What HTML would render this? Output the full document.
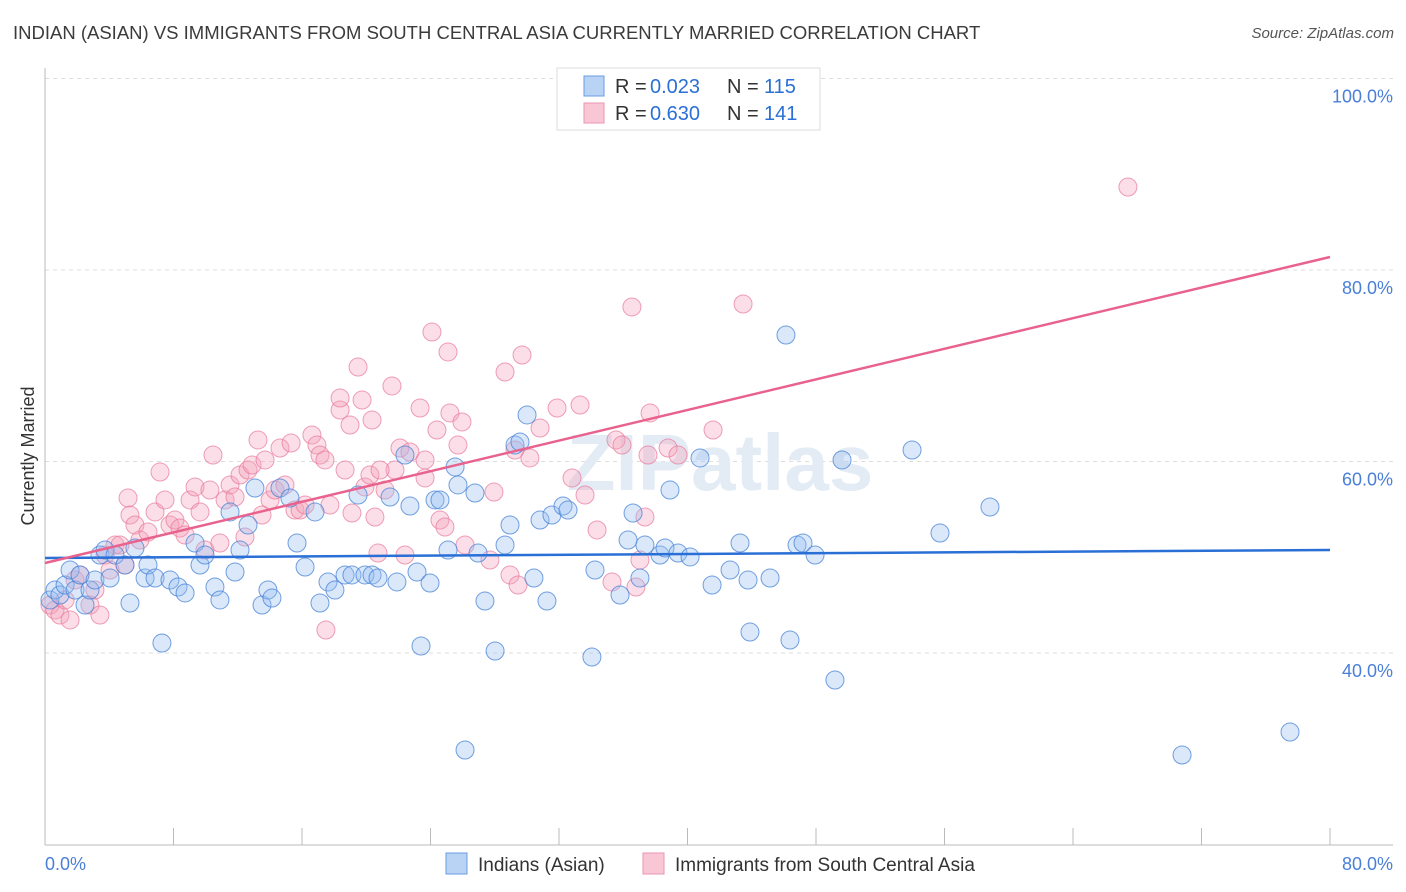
<!DOCTYPE html>
<html><head><meta charset="utf-8">
<style>
body{margin:0;background:#fff;font-family:"Liberation Sans",sans-serif;}
#wrap{position:relative;width:1406px;height:892px;overflow:hidden;}
.title{position:absolute;left:13px;top:22px;font-size:18.5px;color:#3b3b3b;}
.src{position:absolute;right:12px;top:25px;font-size:15px;color:#555;font-style:italic;}
</style></head><body>
<div id="wrap">
<div class="title">INDIAN (ASIAN) VS IMMIGRANTS FROM SOUTH CENTRAL ASIA CURRENTLY MARRIED CORRELATION CHART</div>
<div class="src">Source: ZipAtlas.com</div>
<svg id="svg" width="1406" height="892" style="position:absolute;left:0;top:0"></svg>
</div>
<script>
const xTicks=[0,8,16,24,32,40,48,56,64,72,80];
const yTicks=[40,60,80,100];
const bluePx=[[50,600],[55,590],[60,595],[65,585],[70,570],[75,590],[80,575],[85,605],[90,590],[95,580],[100,555],[105,550],[110,578],[115,555],[125,565],[130,603],[135,548],[145,578],[148,565],[155,578],[162,643],[170,580],[178,587],[185,593],[195,543],[200,565],[205,555],[215,587],[220,600],[230,512],[235,572],[240,550],[248,525],[255,488],[262,605],[268,590],[272,598],[280,488],[290,498],[297,543],[305,567],[315,512],[320,603],[328,582],[335,590],[345,575],[352,575],[358,495],[365,575],[372,575],[378,578],[390,497],[397,582],[405,455],[410,506],[417,572],[421,646],[430,583],[435,500],[440,500],[448,550],[455,467],[458,485],[465,750],[475,493],[478,553],[485,601],[495,651],[505,545],[510,525],[515,445],[520,442],[527,415],[534,578],[540,520],[547,601],[552,515],[563,506],[568,510],[592,657],[595,570],[620,595],[628,540],[633,513],[640,578],[645,545],[660,555],[665,548],[670,490],[678,553],[690,557],[700,458],[712,585],[730,570],[740,543],[748,580],[750,632],[770,578],[786,335],[790,640],[797,545],[803,543],[815,555],[835,680],[842,460],[912,450],[940,533],[990,507],[1182,755],[1290,732]];
const pinkPx=[[50,605],[55,610],[60,615],[65,600],[70,620],[75,580],[80,575],[90,605],[95,590],[100,615],[105,555],[110,570],[115,545],[120,545],[125,565],[128,498],[130,515],[135,525],[140,540],[148,532],[155,512],[160,472],[165,500],[170,525],[175,520],[180,528],[185,535],[190,500],[195,487],[200,512],[205,550],[210,490],[213,455],[220,543],[225,500],[230,485],[235,497],[240,475],[245,537],[248,470],[252,465],[258,440],[262,515],[265,460],[270,500],[275,490],[280,448],[285,485],[291,443],[295,510],[300,510],[305,505],[312,435],[317,445],[320,455],[325,460],[330,505],[326,630],[340,410],[345,470],[350,425],[352,513],[358,367],[362,400],[365,487],[370,475],[375,517],[378,553],[385,490],[392,386],[395,470],[400,448],[405,555],[410,452],[420,408],[425,478],[432,332],[437,430],[440,520],[445,527],[448,352],[450,413],[458,445],[462,422],[465,545],[490,560],[494,492],[505,372],[510,575],[515,450],[518,585],[522,355],[530,458],[540,428],[557,408],[572,478],[580,405],[585,495],[597,530],[612,582],[616,440],[622,445],[632,307],[636,587],[640,560],[645,517],[648,455],[650,413],[668,448],[678,455],[713,430],[743,304],[1128,187],[372,420],[380,470],[425,460],[340,398]];
const blueX=bluePx.map(p=>+((p[0]-45)/1285*80).toFixed(2));
const blueY=bluePx.map(p=>+(40+(653-p[1])/9.575).toFixed(2));
const pinkX=pinkPx.map(p=>+((p[0]-45)/1285*80).toFixed(2));
const pinkY=pinkPx.map(p=>+(40+(653-p[1])/9.575).toFixed(2));
const blueTrend=[49.92,50.76];
const pinkTrend=[49.4,81.36];
const X=v=>45+v/80*1285;
const Y=v=>653-(v-40)*9.575;
const NS="http://www.w3.org/2000/svg";
const svg=document.getElementById('svg');
function mk(t,a){const e=document.createElementNS(NS,t);for(const k in a)e.setAttribute(k,a[k]);svg.appendChild(e);return e;}
for(const t of yTicks){const l=mk('line',{x1:45,x2:1393,y1:Y(t),y2:Y(t),stroke:'#ddd','stroke-dasharray':'4,4'});


const tx=mk('text',{x:1393,y:Y(t)+24,'text-anchor':'end','font-size':18,fill:'#4a7fd8','font-family':'Liberation Sans'});tx.textContent=t.toFixed(1)+'%';

}
const ax=mk('line',{x1:45,x2:45,y1:68,y2:845,stroke:'#bbb'});


const bx=mk('line',{x1:45,x2:1393,y1:845,y2:845,stroke:'#bbb'});


for(const t of xTicks){const l=mk('line',{x1:X(t),x2:X(t),y1:828,y2:845,stroke:'#bbb'});

}
const x0=mk('text',{x:45,y:870,'font-size':18,fill:'#4a7fd8','font-family':'Liberation Sans'});x0.textContent='0.0%';


const x1=mk('text',{x:1393,y:870,'text-anchor':'end','font-size':18,fill:'#4a7fd8','font-family':'Liberation Sans'});x1.textContent='80.0%';


const yt=mk('text',{x:34,y:456,'text-anchor':'middle','font-size':18,fill:'#333','font-family':'Liberation Sans',transform:'rotate(-90 34 456)'});yt.textContent='Currently Married';


const wm=mk('text',{x:720,y:490,'text-anchor':'middle','font-size':80,fill:'#e3ebf5','font-family':'Liberation Sans','font-weight':'bold'});wm.textContent='ZIPatlas';


for(let i=0;i<pinkX.length;i++){const c=mk('circle',{cx:X(pinkX[i]),cy:Y(pinkY[i]),r:9,fill:'rgba(244,160,185,0.35)',stroke:'rgba(232,120,155,0.7)','stroke-width':1});

}
for(let i=0;i<blueX.length;i++){const c=mk('circle',{cx:X(blueX[i]),cy:Y(blueY[i]),r:9,fill:'rgba(150,190,240,0.35)',stroke:'rgba(70,130,215,0.75)','stroke-width':1});

}
const bl=mk('line',{x1:X(0),x2:X(80),y1:Y(blueTrend[0]),y2:Y(blueTrend[1]),stroke:'#2a6fd6','stroke-width':2.5});


const pl=mk('line',{x1:X(0),x2:X(80),y1:Y(pinkTrend[0]),y2:Y(pinkTrend[1]),stroke:'#e8628d','stroke-width':2.5});


const lb=mk('rect',{x:557,y:68,width:263,height:62,fill:'#fff',stroke:'#ddd'});


const rows=[['#b9d3f5','#6a9be0','0.023','115',86],['#f9c6d5','#eb95b0','0.630','141',113]];
for(const r of rows){const s=mk('rect',{x:584,y:r[4]-10,width:20,height:20,fill:r[0],stroke:r[1]});


const parts=[[615,'R =','#333'],[650,r[2],'#2a6fd6'],[727,'N =','#333'],[764,r[3],'#2a6fd6']];
for(const p of parts){const t=mk('text',{x:p[0],y:r[4]+7,'font-size':20,fill:p[2],'font-family':'Liberation Sans'});t.textContent=p[1];

}}
const bottom=[[446,'#b9d3f5','#6a9be0','Indians (Asian)'],[643,'#f9c6d5','#eb95b0','Immigrants from South Central Asia']];
for(const b of bottom){const s=mk('rect',{x:b[0],y:853,width:21,height:21,fill:b[1],stroke:b[2]});


const t=mk('text',{x:b[0]+32,y:871,'font-size':19,fill:'#333','font-family':'Liberation Sans'});t.textContent=b[3];

}
</script>
</body></html>
